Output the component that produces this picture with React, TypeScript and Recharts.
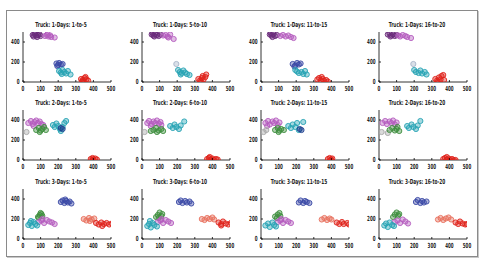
import React from 'react';
import { ScatterChart, Scatter, XAxis, YAxis } from 'recharts';

const FONT = "'DejaVu Sans Condensed', 'Liberation Sans Narrow', 'DejaVu Sans', sans-serif";

type P = [number, number];

const xTicks = [0, 100, 200, 300, 400, 500];
const yTicks = [0, 200, 400];

const titles = [
  'Truck: 1-Days: 1-to-5', 'Truck: 1-Days: 5-to-10', 'Truck: 1-Days: 11-to-15', 'Truck: 1-Days: 16-to-20',
  'Truck: 2-Days: 1-to-5', 'Truck: 2-Days: 6-to-10', 'Truck: 2-Days: 11-to-15', 'Truck: 2-Days: 16-to-20',
  'Truck: 3-Days: 1-to-5', 'Truck: 3-Days: 6-to-10', 'Truck: 3-Days: 11-to-15', 'Truck: 3-Days: 16-to-20',
];

const C = {
  purple: '#6b2c7c', magenta: '#b45cbe', blue: '#3b4aa6', teal: '#28a4b4', red: '#e0241c',
  green: '#3f8f3f', orange: '#e8705e', gray: '#a8a8a8', darkblue: '#1f3f8f', faint: '#a8b4c8',
};

// Truck 1
const p1Purple: P[] = [[55,470],[65,480],[75,465],[60,455],[85,470],[95,475],[70,490],[80,450],[100,460]];
const p1Magenta: P[] = [[125,460],[135,470],[145,455],[155,465],[140,480],[160,450],[180,445]];
const p1Blue: P[] = [[190,185],[205,190],[215,175],[200,170],[225,180],[195,160]];
const p1Teal: P[] = [[205,110],[215,95],[225,120],[235,100],[245,85],[220,80],[255,110],[270,75]];
const p1Red: P[] = [[330,30],[340,20],[350,40],[345,10],[360,25],[335,5],[370,15],[355,50]];

const p2Purple: P[] = [[55,475],[65,465],[75,480],[85,470],[95,460],[70,455],[105,475],[60,490]];
const p2Magenta: P[] = [[120,465],[135,470],[145,455],[160,475],[150,445],[180,430]];
const p2Blue: P[] = [[195,180]];
const p2Teal: P[] = [[205,120],[215,100],[225,90],[235,115],[245,95],[220,75],[255,80],[270,70]];
const p2Red: P[] = [[320,30],[330,15],[340,40],[350,25],[345,60],[360,50],[335,5],[365,75]];

const p3Purple: P[] = [[50,475],[60,465],[70,480],[80,460],[65,450],[90,470],[55,490]];
const p3Magenta: P[] = [[110,460],[125,470],[140,455],[155,465],[170,450],[185,440]];
const p3Blue: P[] = [[180,180],[195,165],[205,190],[215,175],[225,185],[190,155]];
const p3Teal: P[] = [[195,120],[205,105],[215,90],[230,100],[240,80],[250,110],[260,75]];
const p3Red: P[] = [[320,25],[330,40],[340,15],[350,30],[360,10],[345,50],[370,20],[380,5]];

const p4Purple: P[] = [[50,475],[60,485],[70,465],[80,475],[90,460],[100,470],[65,455]];
const p4Magenta: P[] = [[110,465],[120,455],[135,470],[150,460],[160,450],[182,440]];
const p4Blue: P[] = [[195,180]];
const p4Teal: P[] = [[200,120],[210,100],[225,90],[235,115],[245,85],[260,100],[270,75]];
const p4Red: P[] = [[320,30],[330,15],[340,45],[350,25],[355,60],[365,70],[335,5],[370,20]];

// Truck 2
const p5Magenta: P[] = [[30,370],[45,390],[55,360],[65,380],[75,395],[85,370],[95,385],[105,360],[60,340],[115,350]];
const p5Green: P[] = [[75,300],[90,320],[100,295],[110,310],[120,330],[130,300],[95,280]];
const p5Gray: P[] = [[20,280]];
const p5Cyan: P[] = [[170,350],[180,330],[190,365],[200,340],[210,310],[225,330],[235,370],[245,390],[215,290]];
const p5Dark: P[] = [[215,320],[225,310]];
const p5Red: P[] = [[385,10],[395,20],[400,5],[410,15],[420,5],[395,0]];

const p6Magenta: P[] = [[30,370],[40,390],[55,360],[65,385],[75,370],[85,395],[95,365],[105,380],[50,340],[110,350]];
const p6Green: P[] = [[50,290],[65,300],[80,320],[95,295],[110,310],[120,290],[85,280]];
const p6Gray: P[] = [[15,280]];
const p6Cyan: P[] = [[160,340],[175,320],[185,355],[195,330],[210,310],[220,345],[240,385]];
const p6Red: P[] = [[370,10],[380,20],[390,5],[400,15],[410,0],[420,10],[430,5],[385,30]];

const p7Magenta: P[] = [[25,370],[40,390],[50,355],[65,385],[75,370],[85,395],[95,350],[105,375],[35,340]];
const p7Gray: P[] = [[15,280],[30,300]];
const p7Green: P[] = [[80,300],[95,320],[105,295],[115,310],[130,300],[100,280]];
const p7Cyan: P[] = [[155,340],[170,320],[180,355],[195,330],[205,370],[215,300],[240,380]];
const p7Dark: P[] = [[220,310],[230,300]];
const p7Red: P[] = [[380,10],[390,20],[400,5],[405,15],[395,0]];

const p8Magenta: P[] = [[20,370],[35,390],[45,360],[60,385],[70,370],[80,395],[90,355],[100,375]];
const p8Gray: P[] = [[15,280],[50,270]];
const p8Green: P[] = [[60,300],[75,320],[90,295],[100,310],[115,290],[105,330]];
const p8Cyan: P[] = [[160,340],[170,320],[185,355],[195,330],[210,310],[220,345],[235,390]];
const p8Red: P[] = [[365,10],[375,20],[385,5],[395,15],[405,0],[415,10],[385,30],[425,0],[435,0]];

// Truck 3
const p9Blue: P[] = [[215,370],[225,385],[235,360],[245,380],[255,365],[265,375],[275,355],[240,395]];
const p9Green: P[] = [[85,220],[95,240],[100,260],[110,230],[105,250],[90,215]];
const p9Magenta: P[] = [[90,170],[105,185],[120,160],[135,190],[150,175],[165,165],[180,150],[110,200]];
const p9Cyan: P[] = [[30,140],[40,160],[50,130],[60,170],[70,150],[80,135],[45,180]];
const p9Orange: P[] = [[345,200],[360,185],[375,210],[390,195],[405,205],[380,180]];
const p9Red: P[] = [[415,160],[430,145],[445,165],[460,150],[475,160],[490,145],[505,155],[450,130]];

const p10Blue: P[] = [[210,370],[220,385],[230,360],[245,380],[255,365],[270,375],[280,355]];
const p10Green: P[] = [[80,220],[90,240],[100,265],[110,230],[115,250],[95,210]];
const p10Magenta: P[] = [[90,170],[105,185],[120,160],[135,190],[150,175],[165,160],[110,200]];
const p10Cyan: P[] = [[30,130],[40,150],[50,115],[60,160],[70,140],[85,125],[45,180]];
const p10Orange: P[] = [[340,200],[355,190],[370,210],[385,200],[400,215],[410,195]];
const p10Red: P[] = [[435,165],[450,150],[460,175],[475,155],[490,145],[505,160],[450,135]];

const p11Blue: P[] = [[215,365],[225,385],[240,360],[250,380],[260,370],[275,360]];
const p11Green: P[] = [[80,225],[95,245],[105,260],[110,230],[90,210]];
const p11Magenta: P[] = [[95,170],[110,185],[125,160],[140,190],[155,175],[170,160],[115,200]];
const p11Cyan: P[] = [[25,135],[40,155],[50,120],[65,165],[75,140],[85,125]];
const p11Orange: P[] = [[345,195],[360,210],[375,190],[390,205],[400,195]];
const p11Red: P[] = [[430,165],[445,150],[460,170],[470,150],[490,160],[500,145]];

const p12Blue: P[] = [[210,370],[220,390],[235,360],[245,380],[255,365],[270,375]];
const p12Green: P[] = [[80,220],[90,245],[100,265],[110,235],[115,250]];
const p12Magenta: P[] = [[90,170],[105,185],[120,160],[135,195],[150,175],[165,155]];
const p12Cyan: P[] = [[30,135],[40,155],[50,120],[60,165],[75,140],[85,130]];
const p12Orange: P[] = [[335,195],[350,210],[365,190],[380,205],[395,215],[410,195]];
const p12Red: P[] = [[435,165],[450,150],[460,175],[475,155],[490,145],[500,150]];

type S = { pts: P[]; color: string };
const panels: S[][] = [
  [{ pts: p1Purple, color: C.purple }, { pts: p1Magenta, color: C.magenta }, { pts: p1Blue, color: C.blue }, { pts: p1Teal, color: C.teal }, { pts: p1Red, color: C.red }],
  [{ pts: p2Purple, color: C.purple }, { pts: p2Magenta, color: C.magenta }, { pts: p2Blue, color: C.faint }, { pts: p2Teal, color: C.teal }, { pts: p2Red, color: C.red }],
  [{ pts: p3Purple, color: C.purple }, { pts: p3Magenta, color: C.magenta }, { pts: p3Blue, color: C.blue }, { pts: p3Teal, color: C.teal }, { pts: p3Red, color: C.red }],
  [{ pts: p4Purple, color: C.purple }, { pts: p4Magenta, color: C.magenta }, { pts: p4Blue, color: C.faint }, { pts: p4Teal, color: C.teal }, { pts: p4Red, color: C.red }],
  [{ pts: p5Magenta, color: C.magenta }, { pts: p5Green, color: C.green }, { pts: p5Gray, color: C.gray }, { pts: p5Cyan, color: C.teal }, { pts: p5Dark, color: C.darkblue }, { pts: p5Red, color: C.red }],
  [{ pts: p6Magenta, color: C.magenta }, { pts: p6Green, color: C.green }, { pts: p6Gray, color: C.gray }, { pts: p6Cyan, color: C.teal }, { pts: p6Red, color: C.red }],
  [{ pts: p7Magenta, color: C.magenta }, { pts: p7Gray, color: C.gray }, { pts: p7Green, color: C.green }, { pts: p7Cyan, color: C.teal }, { pts: p7Dark, color: C.darkblue }, { pts: p7Red, color: C.red }],
  [{ pts: p8Magenta, color: C.magenta }, { pts: p8Gray, color: C.gray }, { pts: p8Green, color: C.green }, { pts: p8Cyan, color: C.teal }, { pts: p8Red, color: C.red }],
  [{ pts: p9Blue, color: C.blue }, { pts: p9Green, color: C.green }, { pts: p9Magenta, color: C.magenta }, { pts: p9Cyan, color: C.teal }, { pts: p9Orange, color: C.orange }, { pts: p9Red, color: C.red }],
  [{ pts: p10Blue, color: C.blue }, { pts: p10Green, color: C.green }, { pts: p10Magenta, color: C.magenta }, { pts: p10Cyan, color: C.teal }, { pts: p10Orange, color: C.orange }, { pts: p10Red, color: C.red }],
  [{ pts: p11Blue, color: C.blue }, { pts: p11Green, color: C.green }, { pts: p11Magenta, color: C.magenta }, { pts: p11Cyan, color: C.teal }, { pts: p11Orange, color: C.orange }, { pts: p11Red, color: C.red }],
  [{ pts: p12Blue, color: C.blue }, { pts: p12Green, color: C.green }, { pts: p12Magenta, color: C.magenta }, { pts: p12Cyan, color: C.teal }, { pts: p12Orange, color: C.orange }, { pts: p12Red, color: C.red }],
];

const X0 = [23, 142, 261, 379];
const Y0 = [82, 160, 239];
const PW = 88;
const PH = 50;
const YW = 20;
const MT = 4;
const XH = 14;
const MR = 8;
const TM = 3;

const ring = (color: string) => (props: any) => {
  if (props.cx == null || props.cy == null) return <g />;
  return <circle cx={props.cx} cy={props.cy} r={2.6} fill={color} fillOpacity={0.42} stroke={color} strokeWidth={0.9} />;
};

const XTick = (props: any) => {
  const { x, y, payload } = props;
  const s = String(payload.value);
  return (
    <g>
      <line x1={x} x2={x} y1={y - TM} y2={y - TM - 2} stroke="#000" strokeWidth={0.8} />
      <text x={x} y={y + 1} dy="0.71em" textAnchor="middle" fontSize={7} fontWeight="bold" fontFamily={FONT} fill="#222" textLength={s.length * 2.8} lengthAdjust="spacingAndGlyphs">{s}</text>
    </g>
  );
};

const YTick = (props: any) => {
  const { x, y, payload } = props;
  const s = String(payload.value);
  return (
    <g>
      <line x1={x + TM} x2={x + TM + 2} y1={y} y2={y} stroke="#000" strokeWidth={0.8} />
      <text x={x - 0.5} y={y} dy="0.355em" textAnchor="end" fontSize={7} fontWeight="bold" fontFamily={FONT} fill="#222" textLength={s.length * 2.8} lengthAdjust="spacingAndGlyphs">{s}</text>
    </g>
  );
};

export default function App() {
  return (
    <div style={{ position: 'absolute', left: 0, top: 0, width: 483, height: 266, background: '#fff', overflow: 'hidden' }}>
      <div style={{ position: 'absolute', left: 6, top: 10, width: 470, height: 245, border: '1px solid #8a8a8a', boxShadow: '1px 1px 0 #c8c8c8' }} />
      {panels.map((series, i) => {
        const c = i % 4;
        const r = Math.floor(i / 4);
        const left = X0[c] - YW;
        const top = Y0[r] - PH - MT;
        return (
          <div key={i} style={{ position: 'absolute', left, top }}>
            <ScatterChart width={YW + PW + MR} height={MT + PH + XH} margin={{ top: MT, right: MR, bottom: 0, left: 0 }}>
              <XAxis type="number" dataKey="x" domain={[0, 500]} ticks={xTicks} allowDataOverflow
                height={XH} tickSize={0} tickMargin={TM} tick={<XTick />} axisLine={{ stroke: '#000', strokeWidth: 0.8 }} interval={0} />
              <YAxis type="number" dataKey="y" domain={[0, 500]} ticks={yTicks} allowDataOverflow
                width={YW} tickSize={0} tickMargin={TM} tick={<YTick />} axisLine={{ stroke: '#000', strokeWidth: 0.8 }} interval={0} />
              {series.map((s, j) => (
                <Scatter key={j} data={s.pts.map(([x, y]) => ({ x, y }))} shape={ring(s.color)} isAnimationActive={false} />
              ))}
            </ScatterChart>
          </div>
        );
      })}
      <svg width={483} height={266} style={{ position: 'absolute', left: 0, top: 0, pointerEvents: 'none' }}>
        {titles.map((t, i) => {
          const c = i % 4;
          const r = Math.floor(i / 4);
          return (
            <text key={i} x={X0[c] + 38} y={Y0[r] - 58 + 2.5} textAnchor="middle" fontSize={7} fontWeight="bold" fontFamily={FONT} fill="#222"
              textLength={t.length * 2.45} lengthAdjust="spacingAndGlyphs">{t}</text>
          );
        })}
      </svg>
    </div>
  );
}
